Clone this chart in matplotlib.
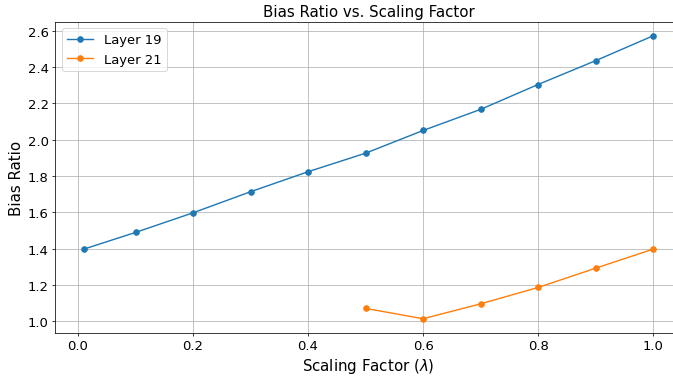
import numpy as np
from matplotlib import pyplot as plt

# scaling factors
lam_19 = [0.01, 0.1, 0.2, 0.3, 0.4, 0.5, 0.6, 0.7, 0.8, 0.9, 1.0]
bias_19 = [1.398, 1.490, 1.598, 1.714, 1.824, 1.926, 2.051, 2.167, 2.304, 2.435, 2.572]

lam_21 = [0.5, 0.6, 0.7, 0.8, 0.9, 1.0]
bias_21 = [1.072, 1.015, 1.097, 1.187, 1.293, 1.398]

fig = plt.figure(figsize=(10, 5.6), dpi=67.3)
# axes runs a bit past the right edge, like the original crop
ax = fig.add_axes([0.0822, 0.1144, 0.9305, 0.8258])
ax.plot(lam_19, bias_19, marker='o', label='Layer 19')
ax.plot(lam_21, bias_21, marker='o', label='Layer 21')
ax.set_xlabel(r'Scaling Factor ($\lambda$)', fontsize=16)
ax.set_ylabel('Bias Ratio', fontsize=16)
ax.set_title('Bias Ratio vs. Scaling Factor', fontsize=16)
ax.tick_params(labelsize=14)
ax.legend(loc='upper left', fontsize=14)
ax.grid(True)
plt.savefig('out.png')
